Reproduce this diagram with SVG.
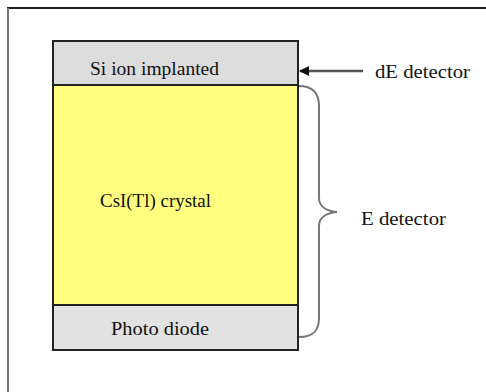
<svg xmlns="http://www.w3.org/2000/svg" width="486" height="392" viewBox="0 0 486 392">
<style>
.lbl{font-family:"Liberation Serif","Times New Roman",serif;font-size:18px;fill:#111}
.box{stroke:#222;stroke-width:2}
</style>
<defs>
<marker id="ah" markerWidth="10" markerHeight="10" refX="9" refY="5" orient="auto" markerUnits="userSpaceOnUse">
<path d="M0,0 L10,5 L0,10 Z" fill="#111"/>
</marker>
</defs>
<rect x="0" y="0" width="486" height="392" fill="#fff"/>
<g id="frame">
<line x1="7" y1="8" x2="486" y2="8" stroke="#222" stroke-width="2"/>
<line x1="8" y1="8" x2="8" y2="392" stroke="#777" stroke-width="2"/>
</g>
<g id="si">
<rect class="box" x="53" y="41" width="245" height="44" fill="#dcdcdc"/>
<text class="lbl" x="90" y="75" textLength="129" lengthAdjust="spacingAndGlyphs">Si ion implanted</text>
</g>
<g id="csi">
<rect class="box" x="53" y="85" width="245" height="220" fill="#ffff80"/>
<text class="lbl" x="100" y="207" textLength="111" lengthAdjust="spacingAndGlyphs">CsI(Tl) crystal</text>
</g>
<g id="pd">
<rect class="box" x="53" y="305" width="245" height="45" fill="#e2e2e2"/>
<text class="lbl" x="111" y="335" textLength="98" lengthAdjust="spacingAndGlyphs">Photo diode</text>
</g>
<g id="de">
<text class="lbl" x="375" y="78" textLength="95" lengthAdjust="spacingAndGlyphs">dE detector</text>
</g>
<g id="e">
<text class="lbl" x="361" y="225" textLength="85" lengthAdjust="spacingAndGlyphs">E detector</text>
</g>
<g id="connectors">
<line x1="363" y1="71" x2="300" y2="71" stroke="#555" stroke-width="2.5" marker-end="url(#ah)"/>
<path d="M299,86 C312,86 319,92 319,106 L319,198 C319,206 326,211 337,212 C326,213 319,218 319,226 L319,318 C319,332 312,337 299,337" fill="none" stroke="#777" stroke-width="2"/>
</g>
</svg>
